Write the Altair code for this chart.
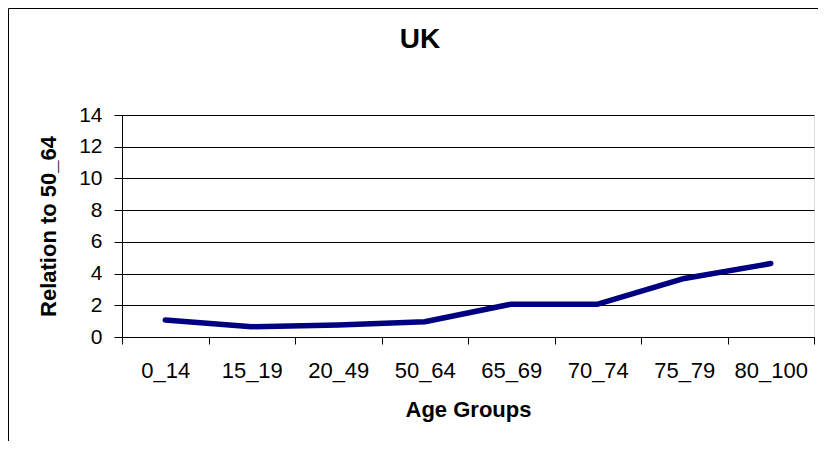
import altair as alt
import pandas as pd

groups = ["0_14", "15_19", "20_49", "50_64", "65_69", "70_74", "75_79", "80_100"]
values = [1.07, 0.65, 0.75, 0.96, 2.07, 2.07, 3.69, 4.63]
y_ticks = [0, 2, 4, 6, 8, 10, 12, 14]
title_text = ["UK"]

df = pd.DataFrame({"group": groups, "value": values})
FONT = "Liberation Sans"

line = alt.Chart(df).mark_line(
    color="#000080", strokeWidth=5.5, strokeCap="round", strokeJoin="round"
).encode(
    x=alt.X(
        "group:N",
        sort=groups,
        bandPosition=0.5,
        scale=alt.Scale(type="band", paddingInner=0, paddingOuter=0),
        axis=alt.Axis(
            title="Age Groups",
            tickBand="extent",
            labelAngle=0,
            labelFont=FONT,
            labelFontSize=22,
            labelColor="black",
            labelPadding=16,
            tickSize=7,
            tickColor="black",
            domainColor="black",
            titleFont=FONT,
            titleFontSize=22,
            titleFontWeight="bold",
            titleColor="black",
            titlePadding=18,
            grid=False,
        ),
    ),
    y=alt.Y(
        "value:Q",
        scale=alt.Scale(domain=[0, 14], nice=False),
        axis=alt.Axis(
            title="Relation to 50_64",
            values=y_ticks,
            labelFont=FONT,
            labelFontSize=21,
            labelColor="black",
            labelPadding=12,
            tickSize=8,
            tickColor="black",
            domainColor="black",
            titleFont=FONT,
            titleFontSize=22,
            titleFontWeight="bold",
            titleColor="black",
            titlePadding=18,
            grid=True,
            gridColor="black",
            gridWidth=1,
        ),
    ),
)

title = alt.Chart(pd.DataFrame({"t": title_text})).mark_text(
    font=FONT, fontSize=28, fontWeight="bold", color="black",
    align="center", baseline="middle",
).encode(
    text="t:N",
    x=alt.value(298),
    y=alt.value(-75),
)

frame = alt.Chart(pd.DataFrame({"a": [0]})).mark_rect(
    fillOpacity=0, stroke="black", strokeWidth=1
).encode(
    x=alt.value(-113.5),
    x2=alt.value(760),
    y=alt.value(-106.5),
    y2=alt.value(400),
)

chart = alt.layer(line, title, frame).properties(
    width=692,
    height=222,
    autosize=alt.AutoSizeParams(type="none"),
    padding={"left": 114, "top": 107, "right": 4, "bottom": 104},
).configure_view(stroke="#808080", strokeWidth=1).configure(background="white")

chart.save("out.html", embed_options={"renderer": "svg", "actions": False})
